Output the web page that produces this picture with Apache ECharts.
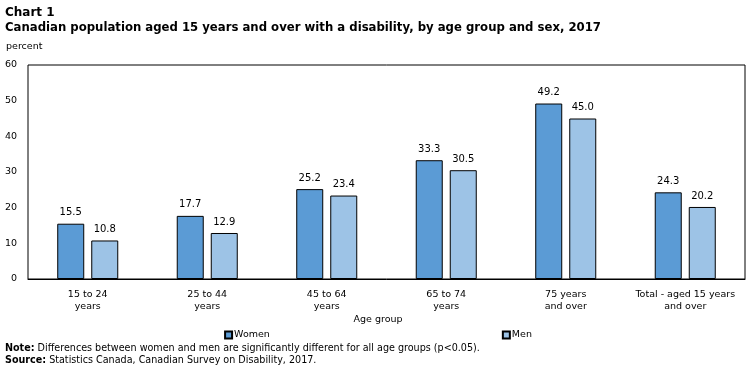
<!DOCTYPE html>
<html><head><meta charset="utf-8">
<script src="https://cdn.jsdelivr.net/npm/echarts@6/dist/echarts.min.js"></script>
<style>body{margin:0;background:#fff}#c{width:756px;height:370px}</style>
</head><body><div id="c"></div>
<script>
const categories = ['15 to 24\nyears','25 to 44\nyears','45 to 64\nyears','65 to 74\nyears','75 years\nand over','Total - aged 15 years\nand over'];
const women = [15.5, 17.7, 25.2, 33.3, 49.2, 24.3];
const men = [10.8, 12.9, 23.4, 30.5, 45.0, 20.2];
const yTicks = [0, 10, 20, 30, 40, 50, 60];
const F = 'DejaVu Sans, Verdana, sans-serif';
const chart = echarts.init(document.getElementById('c'));
const lbl = {show:true, position:'top', color:'#000', fontFamily:F, fontSize:10, distance:6, formatter:p=>p.value.toFixed(1)};
chart.setOption({
  animation:false,
  textStyle:{fontFamily:F},
  title:[
    {text:'Chart 1', left:5, top:7, padding:0, textStyle:{fontFamily:F, fontSize:12, fontWeight:'bold', color:'#000'}},
    {text:'Canadian population aged 15 years and over with a disability, by age group and sex, 2017', left:5, top:22, padding:0, textStyle:{fontFamily:F, fontSize:11.7, fontWeight:'bold', color:'#000'}},
    {text:'percent', left:6, top:42, padding:0, textStyle:{fontFamily:F, fontSize:9.5, fontWeight:'normal', color:'#000'}},
    {text:'Age group', left:'center', top:315, padding:0, textStyle:{fontFamily:F, fontSize:9.5, fontWeight:'normal', color:'#000'}},
    {text:'{b|Note:} Differences between women and men are significantly different for all age groups (p<0.05).\n{b|Source:} Statistics Canada, Canadian Survey on Disability, 2017.', left:5, top:342, padding:0,
     textStyle:{fontFamily:F, fontSize:9.6, fontWeight:'normal', color:'#000', lineHeight:12, rich:{b:{fontFamily:F, fontSize:9.6, fontWeight:'bold', color:'#000'}}}}
  ],
  legend:{top:325, left:'center', itemGap:232, itemWidth:7, itemHeight:7, icon:'rect',
    textStyle:{fontFamily:F, fontSize:9.5, color:'#000', padding:[0,0,0,-3]}, data:['Women','Men']},
  grid:{left:28, right:11, top:65, bottom:91, show:true, borderColor:'#000', borderWidth:1},
  xAxis:{type:'category', data:categories, axisLine:{lineStyle:{color:'#000'}}, axisTick:{show:false},
    axisLabel:{color:'#000', fontFamily:F, fontSize:9.5, lineHeight:12, margin:10, interval:0}},
  yAxis:{type:'value', min:0, max:60, interval:10, splitLine:{show:false}, axisLine:{show:false}, axisTick:{show:false},
    axisLabel:{color:'#000', fontFamily:F, fontSize:9.5, margin:11, formatter:v=>yTicks.includes(v)?String(v):''}},
  series:[
    {name:'Women', type:'bar', data:women, barWidth:27, barGap:'26%', itemStyle:{color:'#5b9bd5', borderColor:'#000', borderWidth:1}, label:lbl},
    {name:'Men', type:'bar', data:men, barWidth:27, itemStyle:{color:'#9dc3e6', borderColor:'#000', borderWidth:1}, label:lbl}
  ]
});
</script></body></html>
